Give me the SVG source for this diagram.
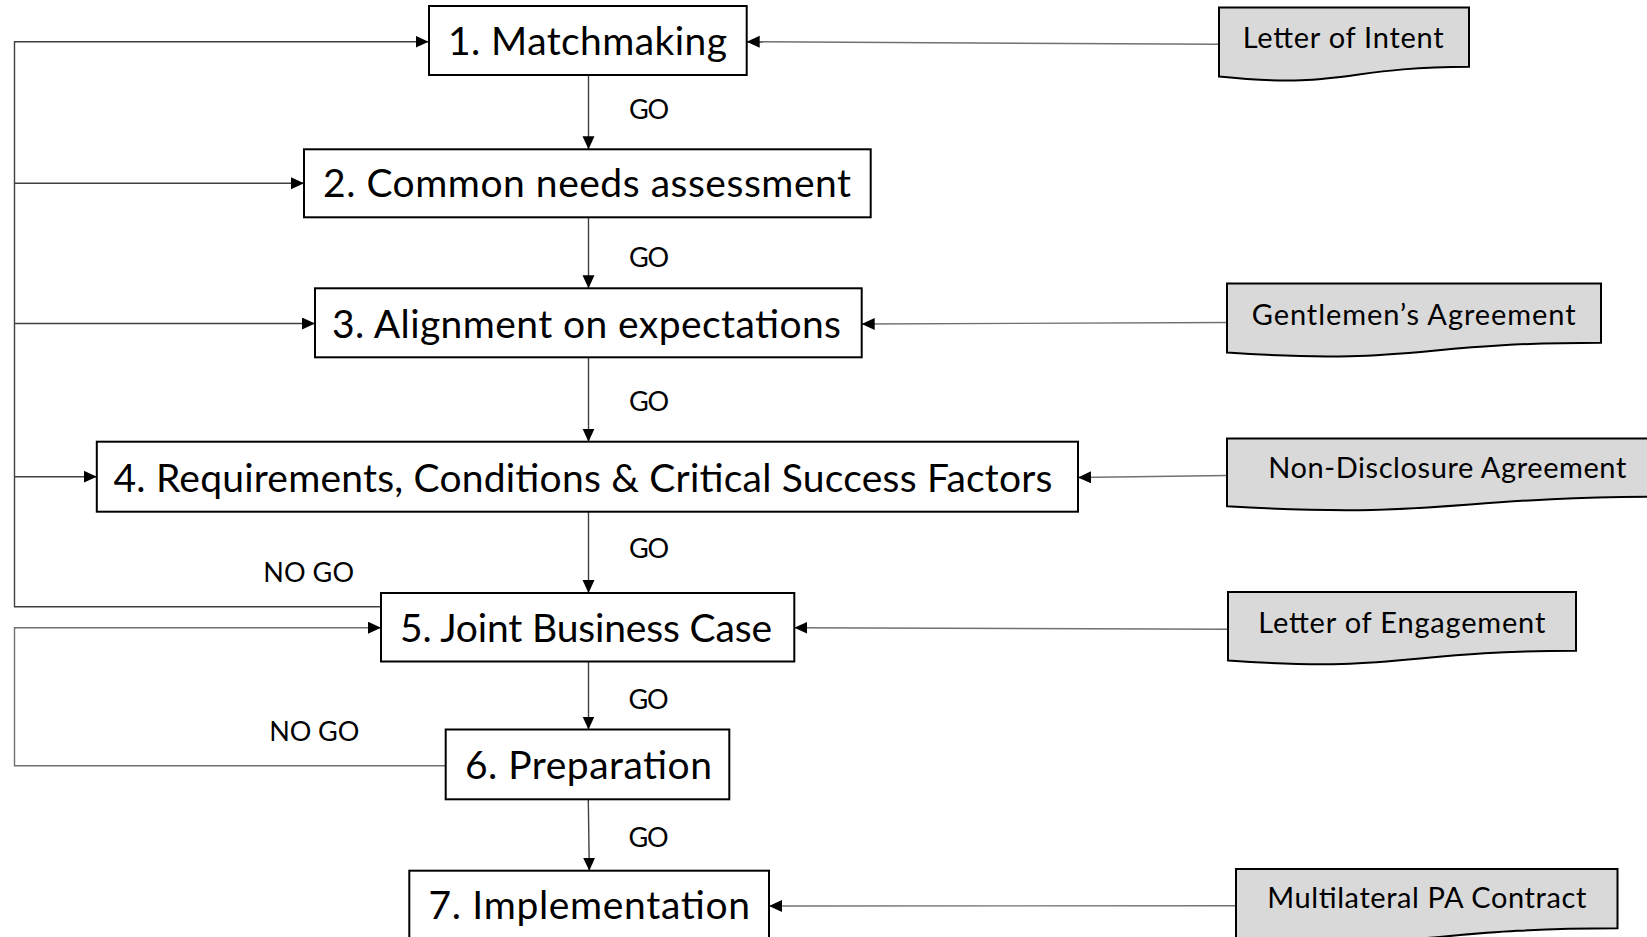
<svg xmlns="http://www.w3.org/2000/svg" width="1647" height="937" viewBox="0 0 1647 937">
<style>
  .box { fill: #ffffff; stroke: #000000; stroke-width: 2; }
  .doc { fill: #d9d9d9; stroke: #000000; stroke-width: 2; stroke-linejoin: miter; }
  .bt { font-family: Lato, "Liberation Sans", sans-serif; font-size: 39px; fill: #000000; }
  .dt { font-family: Lato, "Liberation Sans", sans-serif; font-size: 29px; fill: #000000; }
  .lt { font-family: Lato, "Liberation Sans", sans-serif; font-size: 27px; fill: #000000; }
  .c { fill: none; stroke: #404040; stroke-width: 1.4; }
  .cg { fill: none; stroke: #707070; stroke-width: 1.4; }
</style>
<defs>
  <marker id="arr" markerUnits="userSpaceOnUse" markerWidth="14" markerHeight="13" refX="13" refY="6" orient="auto">
    <path d="M0,0 L13,6 L0,12 Z" fill="#000000"/>
  </marker>
</defs>
<rect width="1647" height="937" fill="#ffffff"/>

<g id="connectors">
  <!-- GO flow -->
  <line class="c" x1="588.5" y1="75" x2="588.5" y2="149.3" marker-end="url(#arr)"/>
  <line class="c" x1="588.5" y1="217.3" x2="588.5" y2="288.3" marker-end="url(#arr)"/>
  <line class="c" x1="588.5" y1="357.3" x2="588.5" y2="441.7" marker-end="url(#arr)"/>
  <line class="c" x1="588.5" y1="511.7" x2="588.5" y2="593" marker-end="url(#arr)"/>
  <line class="c" x1="588.5" y1="661.7" x2="588.5" y2="729.5" marker-end="url(#arr)"/>
  <line class="c" x1="588.3" y1="799.3" x2="589.3" y2="870.7" marker-end="url(#arr)"/>
  <!-- NO GO from 5 back to 1-4 -->
  <polyline class="c" points="381,606.7 14.5,606.7 14.5,41.7 428.5,41.7" marker-end="url(#arr)"/>
  <line class="c" x1="14.5" y1="183.3" x2="304" y2="183.3" marker-end="url(#arr)"/>
  <line class="c" x1="14.5" y1="323.5" x2="315" y2="323.5" marker-end="url(#arr)"/>
  <line class="c" x1="14.5" y1="476.7" x2="96.8" y2="476.7" marker-end="url(#arr)"/>
  <!-- NO GO from 6 back to 5 -->
  <polyline class="cg" points="445.7,765.7 14.5,765.7 14.5,627.7 381,627.7" marker-end="url(#arr)"/>
  <!-- documents to steps -->
  <line class="cg" x1="1219" y1="44.3" x2="746.7" y2="41.7" marker-end="url(#arr)"/>
  <line class="cg" x1="1227" y1="322.5" x2="861.7" y2="324" marker-end="url(#arr)"/>
  <line class="cg" x1="1227" y1="475.5" x2="1078" y2="477.5" marker-end="url(#arr)"/>
  <line class="cg" x1="1228" y1="629.3" x2="794.3" y2="627.7" marker-end="url(#arr)"/>
  <line class="cg" x1="1236" y1="905.7" x2="769" y2="906" marker-end="url(#arr)"/>
  <!-- labels -->
  <text class="lt" x="629" y="119.3" textLength="40">GO</text>
  <text class="lt" x="629" y="266.7" textLength="40">GO</text>
  <text class="lt" x="629" y="410.7" textLength="40">GO</text>
  <text class="lt" x="629" y="558.3" textLength="40">GO</text>
  <text class="lt" x="628.5" y="709.3" textLength="40">GO</text>
  <text class="lt" x="628.5" y="846.7" textLength="40">GO</text>
  <text class="lt" x="263.3" y="581.7" textLength="90.7">NO GO</text>
  <text class="lt" x="269.3" y="741" textLength="90">NO GO</text>
</g>

<g id="step1">
  <rect class="box" x="429" y="6" width="317.7" height="69"/>
  <text class="bt" x="448" y="55" textLength="279">1. Matchmaking</text>
</g>
<g id="step2">
  <rect class="box" x="304" y="149.3" width="566.7" height="68"/>
  <text class="bt" x="323" y="197" textLength="528">2. Common needs assessment</text>
</g>
<g id="step3">
  <rect class="box" x="315" y="288.3" width="546.7" height="69"/>
  <text class="bt" x="332" y="337.5" textLength="509">3. Alignment on expectations</text>
</g>
<g id="step4">
  <rect class="box" x="96.8" y="441.7" width="981.2" height="70"/>
  <text class="bt" x="113.5" y="491.5" textLength="939">4. Requirements, Conditions &amp; Critical Success Factors</text>
</g>
<g id="step5">
  <rect class="box" x="381" y="593" width="413.3" height="68.5"/>
  <text class="bt" x="400" y="641.5" textLength="372">5. Joint Business Case</text>
</g>
<g id="step6">
  <rect class="box" x="445.7" y="729.5" width="283.6" height="69.8"/>
  <text class="bt" x="465" y="779.3" textLength="247">6. Preparation</text>
</g>
<g id="step7">
  <rect class="box" x="409.3" y="870.7" width="359.7" height="80"/>
  <text class="bt" x="428.5" y="919.3" textLength="321.5">7. Implementation</text>
</g>

<g id="doc-loi">
  <path class="doc" d="M1219,7.5 H1469 V66.8 C1344,66.8 1344,89.5 1219,76.6 Z"/>
  <text class="dt" x="1242.7" y="48.3" textLength="201">Letter of Intent</text>
</g>
<g id="doc-ga">
  <path class="doc" d="M1227,283.5 H1601 V342.7 C1414,342.7 1414,365.2 1227,352.6 Z"/>
  <text class="dt" x="1251.7" y="325" textLength="324">Gentlemen’s Agreement</text>
</g>
<g id="doc-nda">
  <path class="doc" d="M1227,438.5 H1668 V496.7 C1447,496.7 1447,518.9 1227,506.3 Z"/>
  <text class="dt" x="1268.3" y="478.3" textLength="358">Non-Disclosure Agreement</text>
</g>
<g id="doc-loe">
  <path class="doc" d="M1228,592 H1576 V650.7 C1402,650.7 1402,673 1228,660.4 Z"/>
  <text class="dt" x="1258.3" y="633.3" textLength="287">Letter of Engagement</text>
</g>
<g id="doc-pa">
  <path class="doc" d="M1236,869 H1617.5 V928.3 C1427,928.3 1427,951 1236,938.1 Z"/>
  <text class="dt" x="1267.3" y="908.3" textLength="319">Multilateral PA Contract</text>
</g>
</svg>
